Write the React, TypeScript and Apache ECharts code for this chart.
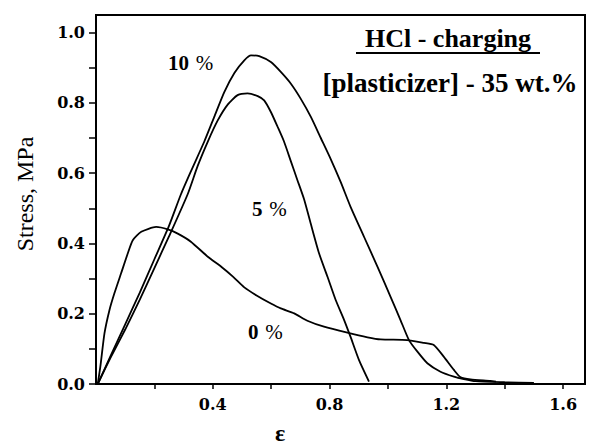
import React, { useEffect, useRef } from "react";
import * as echarts from "echarts";

// Strain (ε) and stress (MPa)
const strain10 = [0.006, 0.05, 0.10, 0.15, 0.20, 0.25, 0.291, 0.325, 0.371, 0.405, 0.439, 0.474, 0.508, 0.531, 0.559, 0.599, 0.633, 0.667, 0.701, 0.736, 0.770, 0.804, 0.838, 0.872, 0.918, 0.964, 1.009, 1.043, 1.072, 1.101, 1.135, 1.180, 1.226, 1.26, 1.30, 1.40, 1.50];
const stress10 = [0, 0.08, 0.17, 0.26, 0.355, 0.45, 0.54, 0.605, 0.69, 0.76, 0.83, 0.885, 0.921, 0.935, 0.933, 0.916, 0.888, 0.855, 0.812, 0.760, 0.700, 0.640, 0.575, 0.504, 0.419, 0.334, 0.248, 0.182, 0.125, 0.092, 0.059, 0.035, 0.021, 0.014, 0.008, 0.005, 0.003];

const strain5 = [0.006, 0.05, 0.10, 0.15, 0.20, 0.25, 0.314, 0.348, 0.383, 0.417, 0.451, 0.485, 0.519, 0.554, 0.576, 0.599, 0.622, 0.644, 0.667, 0.690, 0.713, 0.736, 0.764, 0.793, 0.821, 0.850, 0.872, 0.901, 0.935];
const stress5 = [0, 0.075, 0.155, 0.24, 0.33, 0.42, 0.54, 0.62, 0.69, 0.75, 0.795, 0.822, 0.827, 0.819, 0.807, 0.774, 0.732, 0.69, 0.635, 0.58, 0.525, 0.455, 0.372, 0.305, 0.239, 0.182, 0.134, 0.068, 0.007];

const strain0 = [0.006, 0.015, 0.029, 0.046, 0.063, 0.086, 0.109, 0.126, 0.155, 0.206, 0.246, 0.280, 0.325, 0.383, 0.43, 0.47, 0.508, 0.55, 0.599, 0.633, 0.679, 0.724, 0.781, 0.861, 0.930, 0.975, 1.066, 1.123, 1.157, 1.191, 1.226, 1.249, 1.283, 1.351, 1.37];
const stress0 = [0, 0.05, 0.144, 0.21, 0.258, 0.315, 0.372, 0.409, 0.433, 0.447, 0.44, 0.428, 0.405, 0.362, 0.333, 0.305, 0.275, 0.252, 0.229, 0.215, 0.201, 0.180, 0.163, 0.146, 0.133, 0.127, 0.125, 0.117, 0.111, 0.078, 0.040, 0.019, 0.013, 0.009, 0.007];

const xTicks = [0.2, 0.4, 0.6, 0.8, 1.0, 1.2, 1.4, 1.6];
const xLabels = [0.4, 0.8, 1.2, 1.6];
const yTicks = [0, 0.1, 0.2, 0.3, 0.4, 0.5, 0.6, 0.7, 0.8, 0.9, 1.0];
const yLabels = [0, 0.2, 0.4, 0.6, 0.8, 1.0];

const zip = (xs: number[], ys: number[]) => xs.map((x, i) => [x, ys[i]]);

export default function App() {
  const ref = useRef<HTMLDivElement>(null);
  useEffect(() => {
    if (!ref.current) return;
    const chart = echarts.init(ref.current, null, { renderer: "svg" });
    const serif = "'Liberation Serif', 'Times New Roman', serif";
    const numFont = "'DejaVu Serif', serif";
    const lineSeries = (name: string, data: number[][]) => ({
      name,
      type: "line",
      data,
      showSymbol: false,
      smooth: 0.2,
      lineStyle: { color: "#000", width: 1.8 },
    });
    const pctLabel = (num: string, x: number, y: number) => ({
      type: "text",
      x,
      y,
      style: {
        text: `{b|${num}}  {n|%}`,
        verticalAlign: "middle",
        rich: {
          b: { fontFamily: serif, fontWeight: "bold", fontSize: 21, fill: "#000" },
          n: { fontFamily: serif, fontSize: 21, fill: "#000" },
        },
      },
    });
    chart.setOption({
      animation: false,
      backgroundColor: "#fff",
      grid: { left: 96, right: 5, top: 15, bottom: 64, show: true, borderColor: "#000", borderWidth: 2 },
      xAxis: {
        type: "value",
        min: 0,
        max: 1.675,
        axisLine: { lineStyle: { color: "#000", width: 2 } },
        axisTick: { customValues: xTicks, length: 5, lineStyle: { color: "#000", width: 1.5 } },
        axisLabel: {
          customValues: xLabels,
          formatter: (v: number) => v.toFixed(1),
          color: "#000",
          fontFamily: numFont,
          fontWeight: "bold",
          fontSize: 16,
          margin: 12,
        },
        splitLine: { show: false },
      },
      yAxis: {
        type: "value",
        min: 0,
        max: 1.05,
        axisLine: { lineStyle: { color: "#000", width: 2 } },
        axisTick: { customValues: yTicks, length: 7, lineStyle: { color: "#000", width: 1.5 } },
        axisLabel: {
          customValues: yLabels,
          formatter: (v: number) => v.toFixed(1),
          color: "#000",
          fontFamily: numFont,
          fontWeight: "bold",
          fontSize: 16,
          margin: 11,
        },
        splitLine: { show: false },
      },
      series: [
        lineSeries("10 %", zip(strain10, stress10)),
        lineSeries("5 %", zip(strain5, stress5)),
        lineSeries("0 %", zip(strain0, stress0)),
      ],
      graphic: [
        {
          type: "text",
          x: 448,
          y: 38,
          style: { text: "HCl - charging", fill: "#000", font: `bold 26px ${serif}`, align: "center", verticalAlign: "middle" },
        },
        { type: "line", shape: { x1: 356, y1: 53, x2: 540, y2: 53 }, style: { stroke: "#000", lineWidth: 2 } },
        {
          type: "text",
          x: 450,
          y: 83,
          style: { text: "[plasticizer] - 35 wt.%", fill: "#000", font: `bold 27px ${serif}`, align: "center", verticalAlign: "middle" },
        },
        pctLabel("10", 168, 63),
        pctLabel("5", 252, 209),
        pctLabel("0", 248, 332),
        {
          type: "text",
          x: 25,
          y: 194,
          rotation: Math.PI / 2,
          style: { text: "Stress, MPa", fill: "#000", font: `24px ${serif}`, align: "center", verticalAlign: "middle" },
        },
        {
          type: "text",
          x: 280,
          y: 433,
          style: { text: "ε", fill: "#000", font: `bold 24px ${serif}`, align: "center", verticalAlign: "middle" },
        },
      ],
    });
    return () => chart.dispose();
  }, []);
  return <div ref={ref} style={{ position: "absolute", left: 0, top: 0, width: 590, height: 448 }} />;
}
